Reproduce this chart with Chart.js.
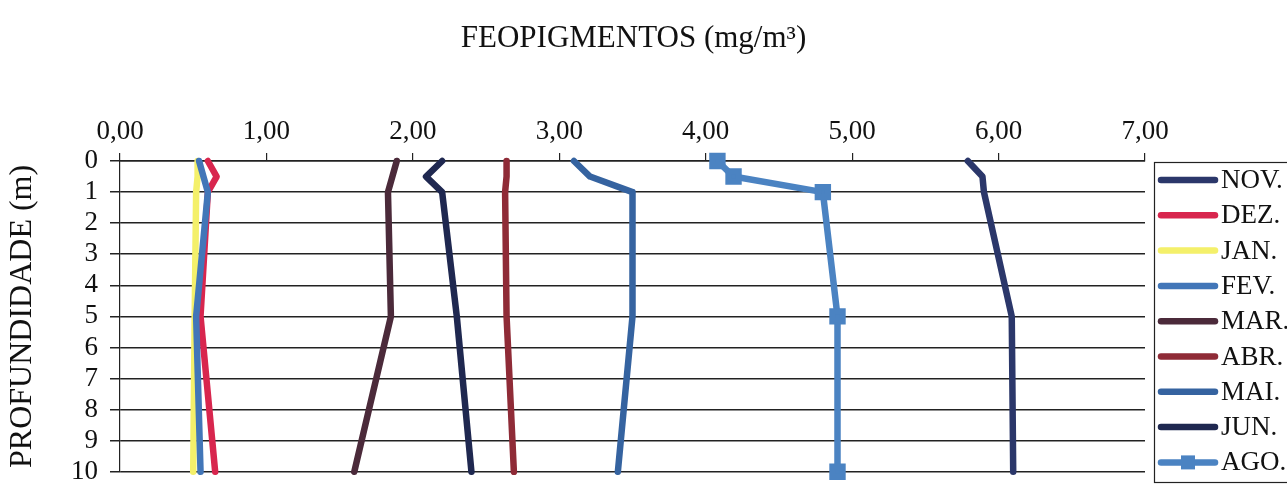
<!DOCTYPE html>
<html>
<head>
<meta charset="utf-8">
<script src="https://cdn.jsdelivr.net/npm/chart.js@4.4.1/dist/chart.umd.min.js"></script>
<style>
  body { margin: 0; background: #fff; }
  #wrap { width: 1287px; height: 500px; position: relative; }
</style>
</head>
<body>
<div id="wrap"><canvas id="chartFeo"></canvas></div>
<script>
var depths = [0, 0.5, 1, 5, 10];
var months = ['NOV.', 'DEZ.', 'JAN.', 'FEV.', 'MAR.', 'ABR.', 'MAI.', 'JUN.', 'AGO.'];
var nov = [5.79, 5.89, 5.90, 6.09, 6.10];
var dez = [0.60, 0.66, 0.60, 0.55, 0.65];
var jan = [0.53, 0.53, 0.52, 0.51, 0.50];
var fev = [0.54, 0.57, 0.60, 0.52, 0.55];
var mar = [1.89, 1.86, 1.83, 1.85, 1.60];
var abr = [2.64, 2.64, 2.63, 2.64, 2.69];
var mai = [3.10, 3.21, 3.50, 3.50, 3.40];
var jun = [2.20, 2.09, 2.20, 2.30, 2.40];
var ago = [4.08, 4.19, 4.80, 4.90, 4.90];
var xTicks = [0, 1, 2, 3, 4, 5, 6, 7];

var seriesValues = [nov, dez, jan, fev, mar, abr, mai, jun, ago];
var seriesColors = ['#2b376a', '#d8264e', '#f4f06a', '#4276b8', '#4b2a3a', '#8f2b37', '#3563a0', '#1f2850', '#4b83c2'];

function toPoints(vals) {
    return vals.map(function(v, i) { return {x: v, y: depths[i]}; });
}

var datasetsFeo = seriesValues.map(function(vals, i) {
    var isAgo = months[i] === 'AGO.';
    return {
        label: months[i],
        data: toPoints(vals),
        borderColor: seriesColors[i],
        backgroundColor: seriesColors[i],
        borderWidth: 6.5,
        borderCapStyle: 'round',
        borderJoinStyle: 'round',
        tension: 0,
        pointStyle: 'rect',
        pointRadius: isAgo ? 7 : 0,
        pointHoverRadius: isAgo ? 7 : 0,
        order: months[i] === 'FEV.' ? -1 : 0,
        clip: false
    };
});

// legend drawn as in the original (box on the right, thick line samples)
var legendFeo = {
    id: 'legendFeo',
    afterDraw: function(chart) {
        var ctx = chart.ctx;
        ctx.save();
        ctx.strokeStyle = '#222';
        ctx.lineWidth = 1.2;
        ctx.strokeRect(1154.5, 162.5, 140, 320);
        chart.data.datasets.forEach(function(ds, i) {
            var y = 180 + i * 35.3;
            ctx.strokeStyle = ds.borderColor;
            ctx.lineWidth = 6.5;
            ctx.lineCap = 'round';
            ctx.beginPath();
            ctx.moveTo(1161, y);
            ctx.lineTo(1215, y);
            ctx.stroke();
            if (ds.pointRadius > 0) {
                ctx.fillStyle = ds.borderColor;
                ctx.fillRect(1188 - 7, y - 7, 14, 14);
            }
            ctx.fillStyle = '#111';
            ctx.font = '27px "Liberation Serif"';
            ctx.textBaseline = 'middle';
            ctx.textAlign = 'left';
            ctx.fillText(ds.label, 1221, y + 1);
        });
        ctx.restore();
    }
};

var ctxFeo = document.getElementById('chartFeo');
var chartFeo = new Chart(ctxFeo, {
    type: 'line',
    data: { datasets: datasetsFeo },
    options: {
        responsive: true,
        maintainAspectRatio: false,
        animation: false,
        layout: { padding: { left: 0, right: 20, top: 0, bottom: 10 } },
        plugins: {
            legend: { display: false },
            tooltip: { enabled: false },
            title: {
                display: true,
                text: 'FEOPIGMENTOS (mg/m³)',
                color: '#111',
                font: { family: 'Liberation Serif', size: 31, weight: 'normal' },
                padding: { top: 20, bottom: 0 }
            }
        },
        scales: {
            x: {
                type: 'linear',
                position: 'top',
                min: 0,
                max: 7,
                afterBuildTicks: function(scale) {
                    scale.ticks = xTicks.map(function(v) { return {value: v}; });
                },
                afterFit: function(scale) { scale.height = 161 - (20 + 31 * 1.2); },
                ticks: {
                    color: '#111',
                    padding: 5,
                    font: { family: 'Liberation Serif', size: 27 },
                    callback: function(v) { return v.toFixed(2).replace('.', ','); }
                },
                grid: { drawOnChartArea: false, drawTicks: true, tickLength: 8, color: '#222', lineWidth: 1.2 },
                border: { display: true, color: '#222', width: 1.5 }
            },
            y: {
                type: 'linear',
                reverse: true,
                min: 0,
                max: 10,
                afterFit: function(scale) { scale.width = 120; },
                ticks: {
                    stepSize: 1,
                    autoSkip: false,
                    color: '#111',
                    padding: 12,
                    font: { family: 'Liberation Serif', size: 27 }
                },
                title: {
                    display: true,
                    text: 'PROFUNDIDADE (m)',
                    color: '#111',
                    font: { family: 'Liberation Serif', size: 32 },
                    padding: { top: 3, bottom: 0 }
                },
                grid: { color: '#222', lineWidth: 1.5, tickLength: 10, drawTicks: true },
                border: { display: true, color: '#222', width: 1.2 }
            },
            // empty right axis, only reserves the room where the legend box sits
            yLegend: {
                type: 'linear',
                position: 'right',
                min: 0,
                max: 10,
                afterFit: function(scale) { scale.width = 1287 - 20 - 1145; },
                ticks: { display: false },
                grid: { display: false, drawTicks: false },
                border: { display: false }
            }
        }
    },
    plugins: [legendFeo]
});
</script>
</body>
</html>
